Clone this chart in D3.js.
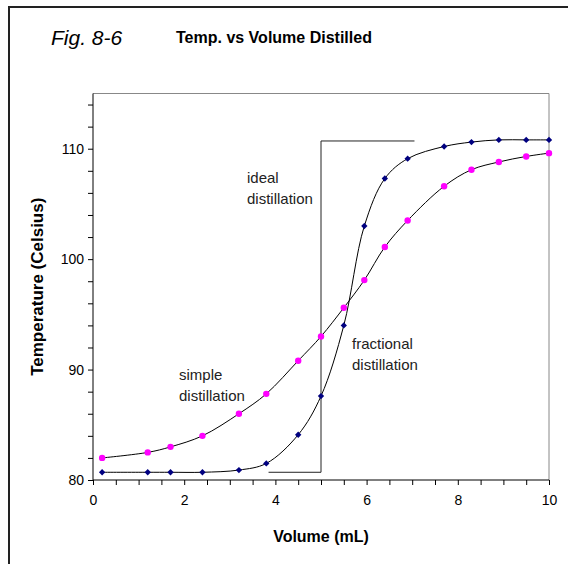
<!DOCTYPE html>
<html>
<head>
<meta charset="utf-8">
<script src="https://cdn.jsdelivr.net/npm/d3@7"></script>
<style>
  body { margin: 0; background: #fff; }
  svg { display: block; font-family: "Liberation Sans", Arial, sans-serif; }
</style>
</head>
<body>
<svg id="chart" width="568" height="564"></svg>
<script>
// volume (mL) where readings were taken
const volume = [0.2, 1.2, 1.7, 2.4, 3.2, 3.8, 4.5, 5.0, 5.5, 5.95, 6.4, 6.9, 7.7, 8.3, 8.9, 9.5, 10.0]
// simple distillation temps (magenta)
const simpleTemp = [82.0, 82.5, 83.0, 84.0, 86.0, 87.8, 90.8, 93.0, 95.6, 98.1, 101.1, 103.5, 106.6, 108.1, 108.8, 109.3, 109.6]
// fractional distillation temps (navy)
const fractionalTemp = [80.7, 80.7, 80.7, 80.7, 80.9, 81.5, 84.1, 87.6, 94.0, 103.0, 107.3, 109.1, 110.2, 110.6, 110.8, 110.8, 110.8]
// ideal distillation step
const idealVolume = [3.85, 5, 5, 7.05]
const idealTemp = [80.7, 80.7, 110.7, 110.7]

const xTicks = [0, 2, 4, 6, 8, 10]
const yTicks = [80, 90, 100, 110]

const labels = [
  {text: ['ideal', 'distillation'], x: 247, y: 183},
  {text: ['simple', 'distillation'], x: 179, y: 380},
  {text: ['fractional', 'distillation'], x: 352, y: 349}
]

const svg = d3.select('#chart')
const pLeft = 93, pRight = 549, pTop = 93.5, pBottom = 480

const x = d3.scaleLinear().domain([0, 10]).range([pLeft, pRight])
const y = d3.scaleLinear().domain([80, 115]).range([pBottom, pTop])

// outer frame (only left and top edges visible)
svg.append('path')
  .attr('d', `M9,564V7H568`)
  .attr('fill', 'none')
  .attr('stroke', '#222')
  .attr('stroke-width', 2)

// titles
svg.append('text')
  .attr('x', 51).attr('y', 45)
  .attr('font-size', 21).attr('font-style', 'italic')
  .text('Fig. 8-6')
svg.append('text')
  .attr('x', 176).attr('y', 43)
  .attr('font-size', 16).attr('font-weight', 'bold')
  .text('Temp. vs Volume Distilled')

// plot area border
svg.append('path')
  .attr('d', `M${pLeft},${pTop}H${pRight}V${pBottom}`)
  .attr('fill', 'none')
  .attr('stroke', '#888')
  .attr('stroke-width', 1)

// axes
const xAxis = d3.axisBottom(x)
  .tickValues(d3.range(0, 10.01, 0.5))
  .tickSize(5)
  .tickFormat(d => xTicks.includes(d) ? d : '')
const gx = svg.append('g')
  .attr('transform', `translate(0,${pBottom})`)
  .call(xAxis)
gx.select('.domain').attr('d', `M${pLeft},0H${pRight}`)
gx.selectAll('text').attr('font-size', 14).attr('y', 25).attr('dy', null).attr('font-family', null)

const yAxis = d3.axisLeft(y)
  .tickValues(d3.range(80, 115.01, 2))
  .tickSize(5)
  .tickFormat(d => yTicks.includes(d) ? d : '')
const gy = svg.append('g')
  .attr('transform', `translate(${pLeft},0)`)
  .call(yAxis)
gy.select('.domain').attr('d', `M0,${pTop}V${pBottom}`)
gy.selectAll('text').attr('font-size', 14).attr('x', -9).attr('font-family', null)

// axis titles
svg.append('text')
  .attr('x', (pLeft + pRight) / 2).attr('y', 542)
  .attr('text-anchor', 'middle')
  .attr('font-size', 16).attr('font-weight', 'bold')
  .text('Volume (mL)')
svg.append('text')
  .attr('transform', `translate(43,${(pTop + pBottom) / 2}) rotate(-90)`)
  .attr('text-anchor', 'middle')
  .attr('font-size', 17).attr('font-weight', 'bold')
  .text('Temperature (Celsius)')

// ideal line
const idealPts = idealVolume.map((v, i) => [v, idealTemp[i]])
svg.append('path')
  .attr('d', d3.line().x(d => x(d[0])).y(d => y(d[1]))(idealPts))
  .attr('fill', 'none')
  .attr('stroke', '#222')
  .attr('stroke-width', 1)

// smoothed curves
const smooth = d3.line().curve(d3.curveCatmullRom.alpha(0.5))
  .x(d => x(d[0])).y(d => y(d[1]))
const simplePts = volume.map((v, i) => [v, simpleTemp[i]])
const fracPts = volume.map((v, i) => [v, fractionalTemp[i]])

svg.append('path').attr('d', smooth(simplePts))
  .attr('fill', 'none').attr('stroke', '#000').attr('stroke-width', 1)
svg.append('path').attr('d', smooth(fracPts))
  .attr('fill', 'none').attr('stroke', '#000').attr('stroke-width', 1)

svg.selectAll('.simple')
  .data(simplePts)
  .enter()
  .append('circle')
  .attr('class', 'simple')
  .attr('cx', d => x(d[0]))
  .attr('cy', d => y(d[1]))
  .attr('r', 3.2)
  .attr('fill', '#ff00ff')

svg.selectAll('.frac')
  .data(fracPts)
  .enter()
  .append('path')
  .attr('class', 'frac')
  .attr('transform', d => `translate(${x(d[0])},${y(d[1])}) rotate(45)`)
  .attr('d', d3.symbol(d3.symbolSquare, 20))
  .attr('fill', '#000080')

// annotations
labels.forEach(l => {
  const t = svg.append('text')
    .attr('x', l.x).attr('y', l.y)
    .attr('font-size', 15).attr('fill', '#222')
  l.text.forEach((s, i) => {
    t.append('tspan').attr('x', l.x).attr('dy', i === 0 ? 0 : 21).text(s)
  })
})
</script>
</body>
</html>
